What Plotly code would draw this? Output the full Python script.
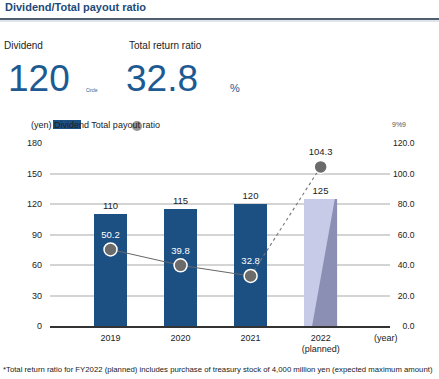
import plotly.graph_objects as go

# ---- data ----
years = ["2019", "2020", "2021", "2022"]
year_ticks = ["2019", "2020", "2021", "2022<br>(planned)"]
dividend = [110, 115, 120, 125]
payout = [50.2, 39.8, 32.8, 104.3]
left_ticks = [0, 30, 60, 90, 120, 150, 180]
right_ticks = [0, 20, 40, 60, 80, 100, 120]

W, H = 439, 379
L, R, T, B = 50, 390, 143, 326  # plot area in pixels

FONT = "Liberation Sans, Arial, sans-serif"
DARK_BLUE = "#1c4f82"
PLAN_FILL = "#c8cbe7"
PLAN_DARK = "#8c8fb4"
GRAY = "#6b6b6b"


def px(x):
    return (x - L) / (R - L)


def py(y):
    return (B - y) / (B - T)


xs = list(range(len(years)))
bw = 0.47

fig = go.Figure()

# bars
fig.add_trace(go.Bar(
    x=xs, y=dividend, width=bw,
    marker=dict(color=[DARK_BLUE, DARK_BLUE, DARK_BLUE, PLAN_FILL], line=dict(width=0)),
    text=[str(v) for v in dividend], textposition="outside",
    textfont=dict(size=9.5, color="#222", family=FONT),
    cliponaxis=False, hoverinfo="skip", showlegend=False,
))

# darker wedge on planned bar (derived from bar position/value)
c = xs[3]
v = dividend[3]
fig.add_trace(go.Scatter(
    x=[c - bw / 2 + 0.24 * bw, c + bw / 2, c + bw / 2, c + bw / 2 - 0.07 * bw],
    y=[0, 0, v, v], fill="toself", fillcolor=PLAN_DARK, mode="none",
    hoverinfo="skip", showlegend=False,
))

# payout line: solid for results, dotted to plan
fig.add_trace(go.Scatter(
    x=xs[:3], y=payout[:3], yaxis="y2", mode="lines",
    line=dict(color="#666", width=1), hoverinfo="skip", showlegend=False,
))
fig.add_trace(go.Scatter(
    x=xs[2:], y=payout[2:], yaxis="y2", mode="lines",
    line=dict(color="#777", width=1.1, dash="dot"), hoverinfo="skip", showlegend=False,
))
fig.add_trace(go.Scatter(
    x=xs, y=payout, yaxis="y2", mode="markers+text",
    marker=dict(color=GRAY, size=13, line=dict(color="white", width=1.5)),
    text=[f"{p:.1f}" for p in payout], textposition="top center",
    textfont=dict(size=9.5, color=["white", "white", "white", "#222"], family=FONT),
    cliponaxis=False, hoverinfo="skip", showlegend=False,
))

FS = "\u2007"
right_text = [(FS * (5 - len(f"{t:.1f}"))) + f"{t:.1f}" for t in right_ticks]

fig.update_layout(
    width=W, height=H,
    margin=dict(l=L, r=W - R, t=T, b=H - B, pad=0),
    paper_bgcolor="white", plot_bgcolor="white",
    font=dict(family=FONT, size=9, color="#222"),
    bargap=0,
    xaxis=dict(
        range=[-0.864, 3.99], tickvals=xs, ticktext=year_ticks,
        showgrid=False, zeroline=False, showline=True, linecolor="#333", linewidth=1.5,
        ticks="", tickfont=dict(size=9, color="#222"), ticklabelstandoff=2,
        fixedrange=True,
    ),
    yaxis=dict(
        range=[0, 180], tickvals=left_ticks, showgrid=True, gridcolor="#d4d4d4", gridwidth=1.5,
        zeroline=False, showline=False, ticks="", tickfont=dict(size=9, color="#222"),
        ticklabelstandoff=7, fixedrange=True,
    ),
    yaxis2=dict(
        range=[0, 120], tickvals=right_ticks, ticktext=right_text, overlaying="y", side="right",
        showgrid=False, zeroline=False, showline=False, ticks="",
        tickfont=dict(size=8.6, color="#222"), ticklabelstandoff=2, fixedrange=True,
    ),
)

ann = []


def text(x, y, s, size, color="#222", bold=False, xanchor="left"):
    if bold:
        s = f"<b>{s}</b>"
    ann.append(dict(x=px(x), y=py(y), xref="paper", yref="paper", text=s, showarrow=False,
                    xanchor=xanchor, yanchor="middle",
                    font=dict(size=size, color=color, family=FONT)))


text(3, 7, "Dividend/Total payout ratio", 11, "#1e4a78", bold=True)
text(2, 45, "Dividend", 10)
text(127, 45, "Total return ratio", 10)
text(6, 78, "120", 37, "#1d5a92")
text(84, 91, "Circle", 4.5, "#1d5a92")
text(124, 78, "32.8", 37, "#1d5a92")
text(228, 88, "%", 11, "#1d5a92")
text(29, 125, "(yen) Dividend Total payout ratio", 9)
text(390, 125, "9%9", 7, "#555")
text(372, 338, "(year)", 9)
text(1, 369, "*Total return ratio for FY2022 (planned) includes purchase of treasury stock of 4,000 million yen (expected maximum amount)", 7.75)

shapes = [
    dict(type="line", xref="paper", yref="paper", x0=px(0), x1=px(W), y0=py(19), y1=py(19),
         line=dict(color="#4f5f6f", width=2)),
    dict(type="line", xref="paper", yref="paper", x0=px(0), x1=px(W), y0=py(21), y1=py(21),
         line=dict(color="#c3ccd4", width=1)),
    dict(type="rect", xref="paper", yref="paper", x0=px(53), x1=px(81), y0=py(120), y1=py(129),
         fillcolor=DARK_BLUE, line=dict(width=0), layer="below"),
    dict(type="circle", xref="paper", yref="paper", x0=px(132), x1=px(142), y0=py(121), y1=py(131),
         fillcolor="#808080", line=dict(width=0), layer="below", opacity=0.85),
]

fig.update_layout(annotations=ann, shapes=shapes)

fig.write_html("out.html", config={"displayModeBar": False},
               post_script="document.body.style.margin='0';document.body.style.padding='0';")
